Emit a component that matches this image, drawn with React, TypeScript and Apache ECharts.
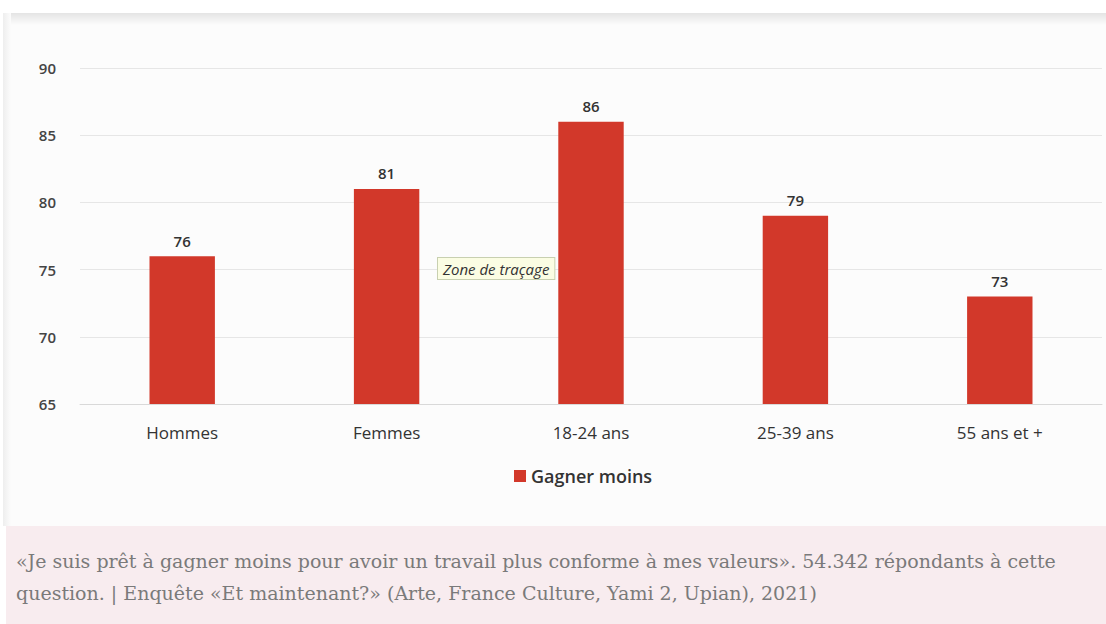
import React, { useEffect, useRef } from "react";
import * as echarts from "echarts";

const categories = ["Hommes", "Femmes", "18-24 ans", "25-39 ans", "55 ans et +"];
const gagnerMoins = [76, 81, 86, 79, 73];
const seriesName = "Gagner moins";
const captionLines = [
  "«Je suis prêt à gagner moins pour avoir un travail plus conforme à mes valeurs». 54.342 répondants à cette",
  "question. | Enquête «Et maintenant?» (Arte, France Culture, Yami 2, Upian), 2021)",
];
const plotHint = "Zone de traçage";

export default function App() {
  const ref = useRef<HTMLDivElement>(null);
  useEffect(() => {
    if (!ref.current) return;
    const chart = echarts.init(ref.current, null, { renderer: "svg" });
    chart.setOption({
      animation: false,
      backgroundColor: "#ffffff",
      textStyle: { fontFamily: "Open Sans, Liberation Sans, sans-serif" },
      graphic: [
        {
          type: "rect",
          silent: true,
          z: -10,
          shape: { x: 3, y: 13, width: 1103, height: 513 },
          style: { fill: "#fcfcfc" },
        },
        {
          type: "rect",
          silent: true,
          z: -9,
          shape: { x: 3, y: 13, width: 1103, height: 12 },
          style: {
            fill: new echarts.graphic.LinearGradient(0, 0, 0, 1, [
              { offset: 0, color: "#e4e4e4" },
              { offset: 1, color: "#fcfcfc" },
            ]),
          },
        },
        {
          type: "rect",
          silent: true,
          z: -9,
          shape: { x: 3, y: 13, width: 8, height: 513 },
          style: {
            fill: new echarts.graphic.LinearGradient(0, 0, 1, 0, [
              { offset: 0, color: "#eeeeee" },
              { offset: 1, color: "#fcfcfc" },
            ]),
          },
        },
        {
          type: "rect",
          silent: true,
          z: -9,
          shape: { x: 6, y: 526, width: 1100, height: 98 },
          style: { fill: "#f8ecef" },
        },
        {
          type: "text",
          silent: true,
          left: 437,
          top: 257,
          z: 100,
          style: {
            text: plotHint,
            fontSize: 15,
            fontStyle: "italic",
            fill: "#333333",
            backgroundColor: "#fbfde3",
            borderColor: "#c8d0b0",
            borderWidth: 1,
            padding: [3, 5, 3, 5],
            fontFamily: "Open Sans, sans-serif",
          },
        },
        {
          type: "text",
          silent: true,
          left: 16,
          top: 551,
          style: {
            text: captionLines[0],
            fontSize: 19,
            fill: "#7a7a7a",
            fontFamily: "DejaVu Serif, Liberation Serif, serif",
          },
        },
        {
          type: "text",
          silent: true,
          left: 16,
          top: 583,
          style: {
            text: captionLines[1],
            fontSize: 19,
            fill: "#7a7a7a",
            fontFamily: "DejaVu Serif, Liberation Serif, serif",
          },
        },
      ],
      legend: {
        data: [seriesName],
        left: 509,
        top: 462,
        icon: "rect",
        itemWidth: 12,
        itemHeight: 12,
        itemGap: 3,
        textStyle: { fontSize: 18, color: "#333", fontWeight: 600 },
      },
      grid: { left: 80, top: 68, width: 1022, height: 336 },
      xAxis: {
        type: "category",
        data: categories,
        axisTick: { show: false },
        axisLine: { show: true, lineStyle: { color: "#d9d9d9" } },
        axisLabel: { fontSize: 17, color: "#333", margin: 20 },
      },
      yAxis: {
        type: "value",
        min: 65,
        max: 90,
        interval: 5,
        axisLine: { show: false },
        axisTick: { show: false },
        axisLabel: { fontSize: 15, color: "#444", margin: 24, fontWeight: 600 },
        splitLine: { lineStyle: { color: "#e6e6e6" } },
      },
      series: [
        {
          name: seriesName,
          type: "bar",
          data: gagnerMoins,
          barWidth: "32%",
          itemStyle: { color: "#d2382a" },
          label: {
            show: true,
            position: "top",
            distance: 8,
            fontSize: 15,
            color: "#333",
            fontWeight: 600,
          },
        },
      ],
    });
    return () => chart.dispose();
  }, []);
  return (
    <div
      ref={ref}
      style={{ position: "fixed", left: 0, top: 0, width: 1106, height: 624 }}
    />
  );
}
